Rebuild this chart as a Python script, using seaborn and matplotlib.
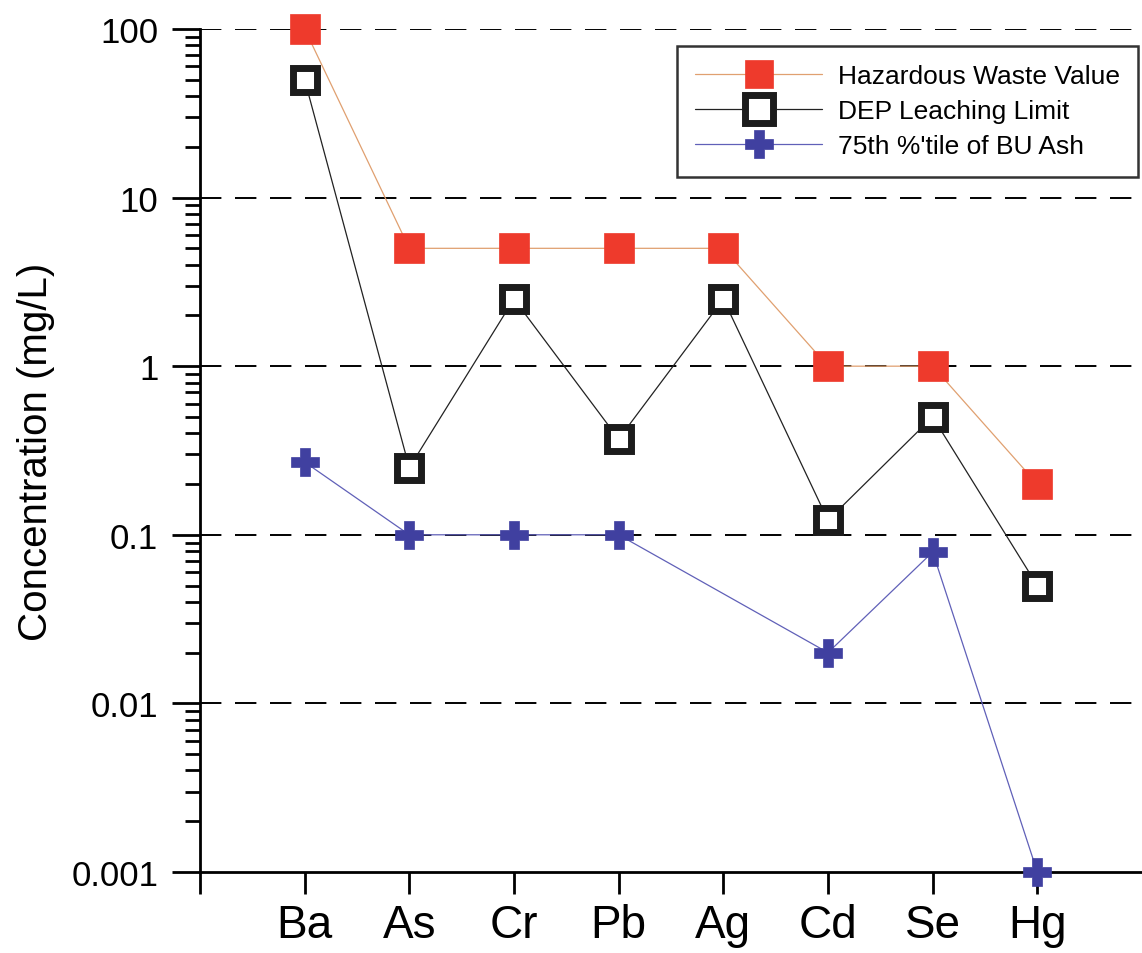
import numpy as np
import pandas as pd
import matplotlib
matplotlib.use("Agg")
import matplotlib.pyplot as plt
import matplotlib.ticker as mticker
import seaborn as sns

# data
elements = ["Ba", "As", "Cr", "Pb", "Ag", "Cd", "Se", "Hg"]
hazardous = [100, 5, 5, 5, 5, 1, 1, 0.2]
dep_limit = [50, 0.25, 2.5, 0.37, 2.5, 0.122, 0.5, 0.05]
bu_ash = [0.27, 0.1, 0.1, 0.1, np.nan, 0.02, 0.079, 0.001]  # no Ag value

sns.set_style("ticks")
plt.rcParams["font.family"] = ["Liberation Sans", "DejaVu Sans"]
plt.rcParams["text.color"] = "black"
plt.rcParams["axes.labelcolor"] = "black"
plt.rcParams["xtick.color"] = "black"
plt.rcParams["ytick.color"] = "black"
plt.rcParams["axes.edgecolor"] = "black"

df = pd.DataFrame({
    "pos": np.arange(1, len(elements) + 1),
    "element": elements,
    "hazardous": hazardous,
    "dep": dep_limit,
    "bu": bu_ash,
})

fig = plt.figure(figsize=(11.42, 9.54), dpi=100)
ax = fig.add_axes([0.1751, 0.0849, 0.8249, 0.8837])

# dashed gridlines at the decades
for yv in [100, 10, 1, 0.1, 0.01]:
    ax.axhline(yv, color="black", lw=1.4, ls=(0, (11, 7)), zorder=1)

sns.lineplot(data=df, x="pos", y="hazardous", ax=ax, color="#e0a070", lw=0.9,
             marker="s", markersize=21, markerfacecolor="#ee3a2c",
             markeredgecolor="#ee3a2c", markeredgewidth=0.5,
             label="Hazardous Waste Value", zorder=3, clip_on=False)
sns.lineplot(data=df, x="pos", y="dep", ax=ax, color="#222222", lw=0.9,
             marker="s", markersize=17, markerfacecolor="white",
             markeredgecolor="#1c1c1c", markeredgewidth=5,
             label="DEP Leaching Limit", zorder=4, clip_on=False)
sns.lineplot(data=df.dropna(subset=["bu"]), x="pos", y="bu", ax=ax,
             color="#6060b8", lw=0.9, marker="P", markersize=20,
             markerfacecolor="#4040a0", markeredgecolor="#4040a0",
             markeredgewidth=0.5, label="75th %'tile of BU Ash", zorder=5,
             clip_on=False)

ax.set_yscale("log")
ax.set_ylim(0.001, 100)
ax.set_xlim(0, 9)
ax.yaxis.set_major_locator(mticker.FixedLocator([0.001, 0.01, 0.1, 1, 10, 100]))
ax.yaxis.set_major_formatter(mticker.FixedFormatter(["0.001", "0.01", "0.1", "1", "10", "100"]))
ax.yaxis.set_minor_locator(mticker.LogLocator(base=10, subs=np.arange(2, 10)))
ax.yaxis.set_minor_formatter(mticker.NullFormatter())

ax.set_xticks(np.arange(0, len(elements) + 1))
ax.set_xticklabels([""] + elements)

ax.tick_params(axis="y", which="major", length=20, width=2, labelsize=25, pad=10)
ax.tick_params(axis="y", which="minor", length=11, width=2)
ax.tick_params(axis="x", which="major", length=16, width=2, labelsize=33, pad=6)

sns.despine(ax=ax)
for side in ["left", "bottom"]:
    ax.spines[side].set_linewidth(2)

ax.set_xlabel("")
ax.set_ylabel("Concentration (mg/L)", fontsize=29, labelpad=12)

leg = ax.legend(loc="upper right", bbox_to_anchor=(0.996, 0.98), borderaxespad=0,
                fontsize=19, frameon=True, fancybox=False, handlelength=4.8,
                handletextpad=0.6, borderpad=0.7, labelspacing=0.42)
leg.get_frame().set_edgecolor("black")
leg.get_frame().set_linewidth(1.8)
for h in leg.legend_handles:
    h.set_markersize(20)

fig.savefig("out.png", dpi=100)
